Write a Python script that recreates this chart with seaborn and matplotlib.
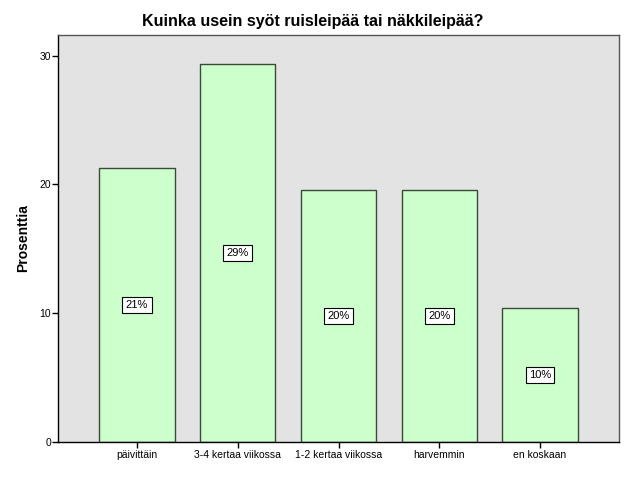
import numpy as np
import pandas as pd
import matplotlib
matplotlib.use('Agg')
import matplotlib.pyplot as plt
import seaborn as sns

# Data
categories = ['päivittäin', '3-4 kertaa viikossa', '1-2 kertaa viikossa', 'harvemmin', 'en koskaan']
percents = [21.3, 29.35, 19.58, 19.58, 10.39]
bar_labels = ['21%', '29%', '20%', '20%', '10%']
y_ticks = [0, 10, 20, 30]

df = pd.DataFrame({'Kategoria': categories, 'Prosenttia': percents})

sns.set_style('white')
plt.rcParams['font.family'] = ['Liberation Sans', 'DejaVu Sans']
plt.rcParams['text.color'] = 'black'
plt.rcParams['axes.labelcolor'] = 'black'

fig = plt.figure(figsize=(6.26, 5.01), dpi=100)
ax = fig.add_axes([0.0927, 0.1178, 0.8961, 0.8122])
ax.set_facecolor('#E3E3E3')

sns.barplot(data=df, x='Kategoria', y='Prosenttia', ax=ax,
            color='#CCFFCC', saturation=1, width=0.745,
            edgecolor='#3A4A3A', linewidth=1.0)

# value labels in middle of bars
for i, (v, lab) in enumerate(zip(percents, bar_labels)):
    ax.text(i, v / 2, lab, ha='center', va='center', fontsize=8, color='black',
            bbox=dict(boxstyle='square,pad=0.3', facecolor='white', edgecolor='black', linewidth=0.8))

ax.set_xlim(-0.784, 4.784)
ax.set_ylim(0, 31.6)
ax.set_yticks(y_ticks)
ax.tick_params(axis='both', labelsize=7.5, length=4, width=1, colors='black', direction='out')
ax.tick_params(axis='x', pad=2)
ax.tick_params(axis='y', pad=1)
ax.xaxis.set_ticks_position('bottom')
ax.yaxis.set_ticks_position('left')

ax.set_xlabel('')
ax.set_ylabel('Prosenttia', fontsize=10, fontweight='bold', labelpad=7, color='black')

for side in ['left', 'bottom']:
    ax.spines[side].set_color('black')
    ax.spines[side].set_linewidth(1.0)
for side in ['top', 'right']:
    ax.spines[side].set_color('#555555')
    ax.spines[side].set_linewidth(1.0)

fig.text(0.5, 0.958, 'Kuinka usein syöt ruisleipää tai näkkileipää?',
         ha='center', va='center', fontsize=11.5, fontweight='bold', color='black')

fig.savefig('out.png', dpi=100, facecolor='white')
